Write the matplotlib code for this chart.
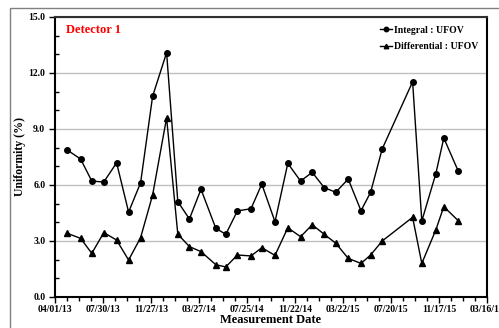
import matplotlib
matplotlib.use('Agg')
import matplotlib.pyplot as plt
import matplotlib.dates as mdates
from matplotlib.patches import Rectangle
import numpy as np
import datetime as dt

dates = ['2013-05-02', '2013-06-04', '2013-07-02', '2013-08-01', '2013-09-02',
         '2013-10-02', '2013-11-01', '2013-12-01', '2014-01-05', '2014-02-02',
         '2014-03-03', '2014-04-01', '2014-05-08', '2014-06-02', '2014-07-01',
         '2014-08-04', '2014-08-31', '2014-10-03', '2014-11-04', '2014-12-06',
         '2015-01-04', '2015-02-03', '2015-03-04', '2015-04-04', '2015-05-06',
         '2015-05-30', '2015-06-28', '2015-09-12', '2015-10-05', '2015-11-09',
         '2015-11-29', '2016-01-04']
integral = [7.87, 7.39, 6.21, 6.16, 7.19, 4.55, 6.12, 10.75, 13.09, 5.11,
            4.18, 5.77, 3.68, 3.36, 4.61, 4.73, 6.05, 4.03, 7.16, 6.21,
            6.68, 5.86, 5.61, 6.32, 4.62, 5.61, 7.93, 11.53, 4.07, 6.60,
            8.52, 6.75]
differential = [3.41, 3.14, 2.34, 3.45, 3.05, 1.98, 3.18, 5.46, 9.60, 3.37,
                2.70, 2.43, 1.73, 1.61, 2.25, 2.20, 2.64, 2.23, 3.71, 3.23,
                3.87, 3.36, 2.88, 2.07, 1.80, 2.25, 3.00, 4.27, 1.80, 3.59,
                4.84, 4.09]

x = [dt.datetime.strptime(d, '%Y-%m-%d') for d in dates]

plt.rcParams['font.family'] = ['Liberation Serif', 'DejaVu Serif']
plt.rcParams['font.weight'] = 'bold'

fig = plt.figure(figsize=(4.99, 3.28), dpi=100)
ax = fig.add_axes([55 / 499, 31 / 328, 432 / 499, 280 / 328])

# outer chart-area frame
fig.patches.append(Rectangle((10 / 499, -0.1), 1.2, (328 - 8) / 328 + 0.1,
                             transform=fig.transFigure, fill=False,
                             edgecolor='#808080', linewidth=1.0))

ax.plot(x, integral, color='black', marker='o', markersize=4, linewidth=1,
        label='Integral : UFOV')
ax.plot(x, differential, color='black', marker='^', markersize=4, linewidth=1,
        label='Differential : UFOV')

start = dt.datetime(2013, 4, 1)
end = dt.datetime(2016, 3, 16)
ax.set_xlim(start, end)
ax.set_ylim(0, 15)

major = [start + dt.timedelta(days=120 * i) for i in range(10)]
minor = [start + dt.timedelta(days=30 * i) for i in range(37)]
ax.set_xticks(major)
ax.set_xticks(minor, minor=True)
ax.xaxis.set_major_formatter(mdates.DateFormatter('%m/%d/%y'))
ax.set_yticks(np.arange(0, 15.1, 3))
ax.set_yticks(np.arange(0, 15.1, 1), minor=True)
ax.yaxis.set_major_formatter(matplotlib.ticker.FormatStrFormatter('%.1f'))

ax.tick_params(axis='both', which='both', labelsize=7, width=1)
ax.tick_params(axis='x', which='major', direction='out', length=4, pad=2)
ax.tick_params(axis='x', which='minor', direction='out', length=3)
ax.tick_params(axis='y', which='major', direction='out', length=4, pad=3)
ax.tick_params(axis='y', which='minor', direction='in', length=3)
for lab in ax.get_xticklabels() + ax.get_yticklabels():
    lab.set_fontweight('bold')

ax.grid(axis='y', which='major', color='#c0c0c0', linewidth=1)
ax.set_axisbelow(True)
for s in ax.spines.values():
    s.set_linewidth(1.5)
    s.set_color('black')
ax.spines['top'].set_color('#303030')

ax.set_xlabel('Measurement Date', fontsize=9, fontweight='bold', labelpad=0)
ax.set_ylabel('Uniformity (%)', fontsize=8.5, fontweight='bold', labelpad=2)

ax.text(0.025, 0.975, 'Detector 1', transform=ax.transAxes, color='red',
        fontsize=9, fontweight='bold', va='top', ha='left')

ax.legend(loc='upper right', frameon=False, handlelength=1.2,
          handletextpad=0.2, labelspacing=0.75, markerscale=0.8,
          borderaxespad=0.5, prop={'weight': 'bold', 'size': 7})

fig.savefig('out.png', dpi=100)
